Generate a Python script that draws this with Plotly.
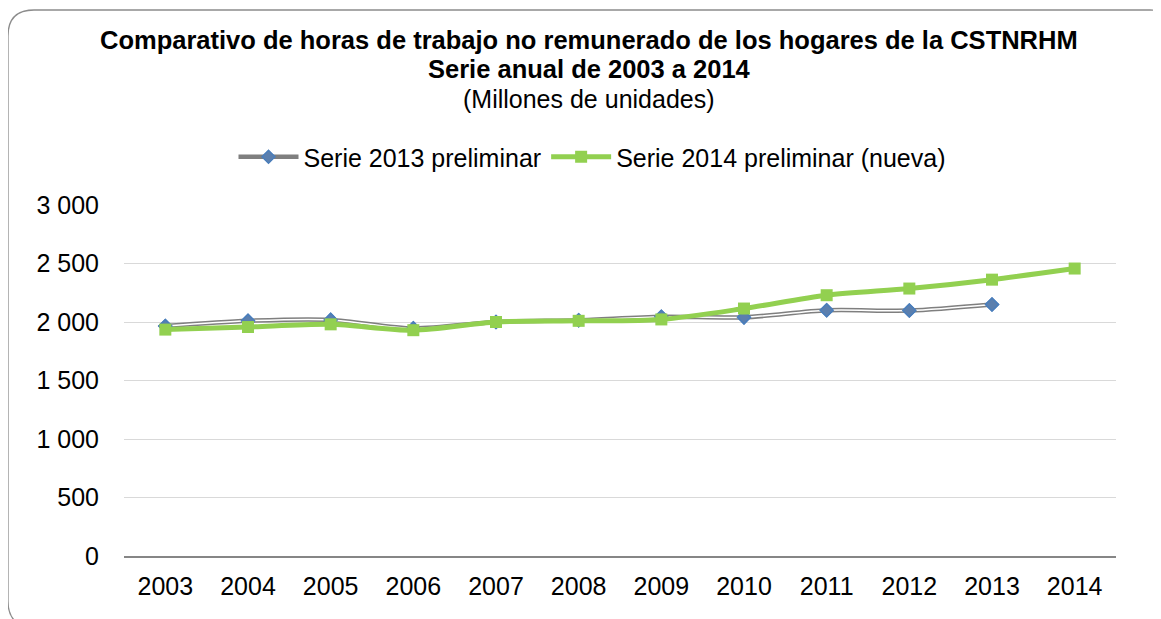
import plotly.graph_objects as go

years = ["2003", "2004", "2005", "2006", "2007", "2008", "2009", "2010", "2011", "2012", "2013", "2014"]
serie_2013 = [1965, 2010, 2018, 1945, 2000, 2015, 2045, 2040, 2100, 2098, 2150, None]
serie_2014 = [1935, 1957, 1980, 1930, 2000, 2010, 2022, 2115, 2229, 2286, 2362, 2457]
y_ticks = [0, 500, 1000, 1500, 2000, 2500, 3000]
y_ticktext = ["0", "500", "1 000", "1 500", "2 000", "2 500", "3 000"]

# page body has an 8px margin: figure is placed at (8, 8)
OFF = 8
W, H = 1161 - OFF, 619 - OFF
ML, MR, MT, MB = 124 - OFF, 45, 205 - OFF, 63
FONT = "Liberation Sans, Arial, sans-serif"

fig = go.Figure()
fig.add_trace(go.Scatter(
    x=years, y=serie_2013, name="Serie 2013 preliminar", mode="lines+markers",
    line=dict(color="#7F7F7F", width=4.5, shape="spline", smoothing=0.8),
    marker=dict(symbol="diamond", size=10, color="#5B7FAE", line=dict(color="#4A7EBB", width=1.5)),
))
fig.add_trace(go.Scatter(
    x=years, y=serie_2013, mode="lines", showlegend=False, hoverinfo="skip",
    line=dict(color="white", width=1.5, shape="spline", smoothing=0.8),
))
fig.add_trace(go.Scatter(
    x=years, y=serie_2013, mode="markers", showlegend=False,
    marker=dict(symbol="diamond", size=10, color="#5B7FAE", line=dict(color="#4A7EBB", width=1.5)),
))
fig.add_trace(go.Scatter(
    x=years, y=serie_2014, name="Serie 2014 preliminar (nueva)", mode="lines+markers",
    line=dict(color="#92D050", width=5, shape="spline", smoothing=0.8),
    marker=dict(symbol="square", size=12, color="#92D050"),
))

# reference-window pixel -> paper coords
def px(x):
    return (x - OFF - ML) / (W - ML - MR)

def py(y):
    return (H - MB - (y - OFF)) / (H - MT - MB)

# rounded border (chart area frame), partly clipped by the window
L, T, R, B, r = 8, 10, 1176, 627, 26
path = (f"M {px(L+r)},{py(T)} L {px(R-r)},{py(T)} Q {px(R)},{py(T)} {px(R)},{py(T+r)} "
        f"L {px(R)},{py(B-r)} Q {px(R)},{py(B)} {px(R-r)},{py(B)} "
        f"L {px(L+r)},{py(B)} Q {px(L)},{py(B)} {px(L)},{py(B-r)} "
        f"L {px(L)},{py(T+r)} Q {px(L)},{py(T)} {px(L+r)},{py(T)} Z")
fig.add_shape(type="path", path=path, xref="paper", yref="paper",
              line=dict(color="#8C8C8C", width=1.3), layer="below")

title_lines = [
    ("<b>Comparativo de horas de trabajo no remunerado de los hogares de la CSTNRHM</b>", 40, 25.5),
    ("<b>Serie anual de 2003 a 2014</b>", 69, 25.5),
    ("(Millones de unidades)", 99, 25),
]
for txt, yc, fs in title_lines:
    fig.add_annotation(text=txt, xref="paper", yref="paper", x=px(589), y=py(yc),
                       xanchor="center", yanchor="middle", showarrow=False,
                       font=dict(family=FONT, size=fs, color="black"))

fig.update_layout(
    width=W, height=H,
    margin=dict(l=ML, r=MR, t=MT, b=MB),
    paper_bgcolor="white", plot_bgcolor="white",
    font=dict(family=FONT, size=25, color="black"),
    showlegend=True,
    legend=dict(orientation="h", x=px(592), y=py(157), xanchor="center", yanchor="middle",
                font=dict(family=FONT, size=25, color="black"), itemwidth=60,
                bgcolor="rgba(0,0,0,0)", tracegroupgap=0),
    xaxis=dict(type="category", range=[-0.5, 11.5], showgrid=False, ticks="",
               showline=True, linecolor="#868686", linewidth=1.5,
               tickfont=dict(family=FONT, size=25, color="black"), ticklabelstandoff=7),
    yaxis=dict(range=[0, 3000], tickvals=y_ticks, ticktext=y_ticktext,
               showgrid=True, gridcolor="#D9D9D9", gridwidth=1.3, zeroline=False,
               showline=False, ticks="", ticklabelstandoff=24,
               tickfont=dict(family=FONT, size=25, color="black")),
    hovermode="closest",
)

fig.write_html("out.html")
